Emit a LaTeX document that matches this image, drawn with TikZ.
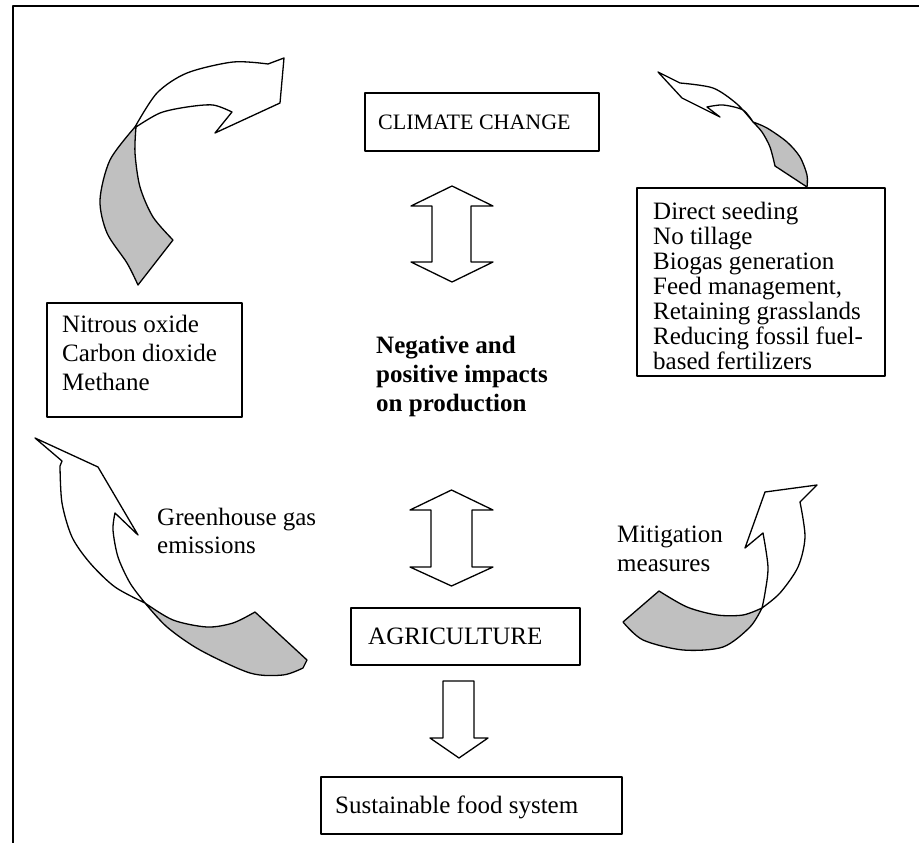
\documentclass[tikz,border=0pt]{standalone}
\usepackage{fontspec}
\setmainfont{Liberation Serif}
\definecolor{shadegray}{RGB}{192,192,192}
\begin{document}
\begin{tikzpicture}[x=1pt,y=-1pt, line join=round,
  boxnode/.style={draw, line width=1.7pt, inner sep=0pt, anchor=north west},
  txt/.style={font=\fontsize{25}{29}\selectfont, anchor=base west, inner sep=0pt},
  btxt/.style={txt, font=\fontsize{25}{29}\selectfont\bfseries},
  shp/.style={draw, line width=1.3pt, fill=white},
  gr/.style={draw, line width=1.3pt, fill=shadegray}]
\useasboundingbox (0,0) rectangle (919,843);
% outer frame
\draw[line width=2.6pt] (13,850) -- (13,6) -- (925,6);

% boxes
\node[boxnode, minimum width=234pt, minimum height=58pt] (cc) at (364,92) {};
\node[boxnode, minimum width=229pt, minimum height=57pt] (ag) at (350,607) {};
\node[boxnode, minimum width=301pt, minimum height=57pt] (sfs) at (320,776) {};
\node[boxnode, minimum width=195pt, minimum height=114pt] (gas) at (46,302) {};
\node[boxnode, minimum width=248pt, minimum height=188pt] (mit) at (636,187) {};

% texts
\node[txt, font=\fontsize{22}{26}\selectfont] (tcc) at (378,129) {CLIMATE CHANGE};
\node[txt] (tag) at (368,644) {AGRICULTURE};
\node[txt] (tsfs) at (335,813) {Sustainable food system};
\node[txt] (g1) at (62,332) {Nitrous oxide};
\node[txt] (g2) at (62,361) {Carbon dioxide};
\node[txt] (g3) at (62,390) {Methane};
\node[txt] (m1) at (653,219) {Direct seeding};
\node[txt] (m2) at (653,244) {No tillage};
\node[txt] (m3) at (653,269) {Biogas generation};
\node[txt] (m4) at (653,294) {Feed management,};
\node[txt] (m5) at (653,319) {Retaining grasslands};
\node[txt] (m6) at (653,344) {Reducing fossil fuel-};
\node[txt] (m7) at (653,369) {based fertilizers};
\node[btxt] (b1) at (376,353) {Negative and};
\node[btxt] (b2) at (376,382) {positive impacts};
\node[btxt] (b3) at (376,411) {on production};
\node[txt] (gh1) at (157,525) {Greenhouse gas};
\node[txt] (gh2) at (157,553) {emissions};
\node[txt] (mm1) at (617,542) {Mitigation};
\node[txt] (mm2) at (617,571) {measures};

% straight block arrows
\draw[shp] (452,186) -- (493,206) -- (471,206) -- (471,262) -- (493,262) -- (452,282)
  -- (411,262) -- (432,262) -- (432,206) -- (411,206) -- cycle;
\draw[shp] (451.5,490) -- (493,510) -- (472,510) -- (472,567) -- (493,567) -- (451.5,586)
  -- (410,567) -- (431,567) -- (431,510) -- (410,510) -- cycle;
\draw[shp] (443,681) -- (474,681) -- (474,738) -- (488,738) -- (459,758) -- (430,738)
  -- (443,738) -- cycle;

% curved arrow 1 (top left)
\draw[gr] plot[smooth] coordinates {(135,127) (110,160) (100,200) (107,233) (127,263) (138,285)}
  -- (173,240) -- plot[smooth] coordinates {(173,240) (153,217) (140,187) (135,153) (136,127)} -- cycle;
\draw[shp] plot[smooth] coordinates {(135,127) (157,93) (187,73) (233,62) (268,64)}
  -- (284,58) -- (280,103) -- (215,133) -- (232,112)
  -- plot[smooth] coordinates {(232,112) (213,105) (187,107) (160,113) (136,127)} -- cycle;

% curved arrow 2 (top right)
\draw[gr] plot[smooth] coordinates {(753,122) (767,128) (787,142) (800,157) (807,175) (807,187)}
  -- (775,166) -- plot[smooth] coordinates {(775,166) (770,147) (762,132) (753,122)} -- cycle;
\draw[shp] (658,72) -- (680,83) -- plot[smooth] coordinates {(680,83) (713,88) (737,104) (753,122)}
  -- plot[smooth] coordinates {(753,122) (743,110) (723,105) (707,107)}
  -- (720,117) -- (682,98) -- cycle;

% curved arrow 3 (bottom left)
\draw[shp] (35,438) -- (62,461) -- plot[smooth] coordinates {(60,466) (62,503) (72,537) (90,563) (115,587) (145,603)}
  -- plot[smooth] coordinates {(145,603) (130,583) (118,557) (113,530) (115,513)}
  -- (138,535) -- (98,467) -- cycle;
\draw[gr] plot[smooth] coordinates {(145,603) (173,620) (207,627) (233,623) (255,612)}
  -- (307,660) -- plot[smooth] coordinates {(303,668) (283,675) (250,673) (200,650) (167,627) (145,603)} -- cycle;

% curved arrow 4 (bottom right)
\draw[shp] plot[smooth] coordinates {(762,608) (780,593) (798,567) (805,537) (800,502)}
  -- (817,485) -- (765,492) -- (745,548) -- (763,533)
  -- plot[smooth] coordinates {(763,533) (768,567) (765,593) (762,608)} -- cycle;
\draw[gr] (623,622) -- (659,591) -- plot[smooth] coordinates {(659,591) (687,607) (717,615) (743,615) (762,608)}
  -- plot[smooth] coordinates {(762,608) (750,627) (723,647) (683,650) (643,640) (623,622)} -- cycle;
\end{tikzpicture}
\end{document}
